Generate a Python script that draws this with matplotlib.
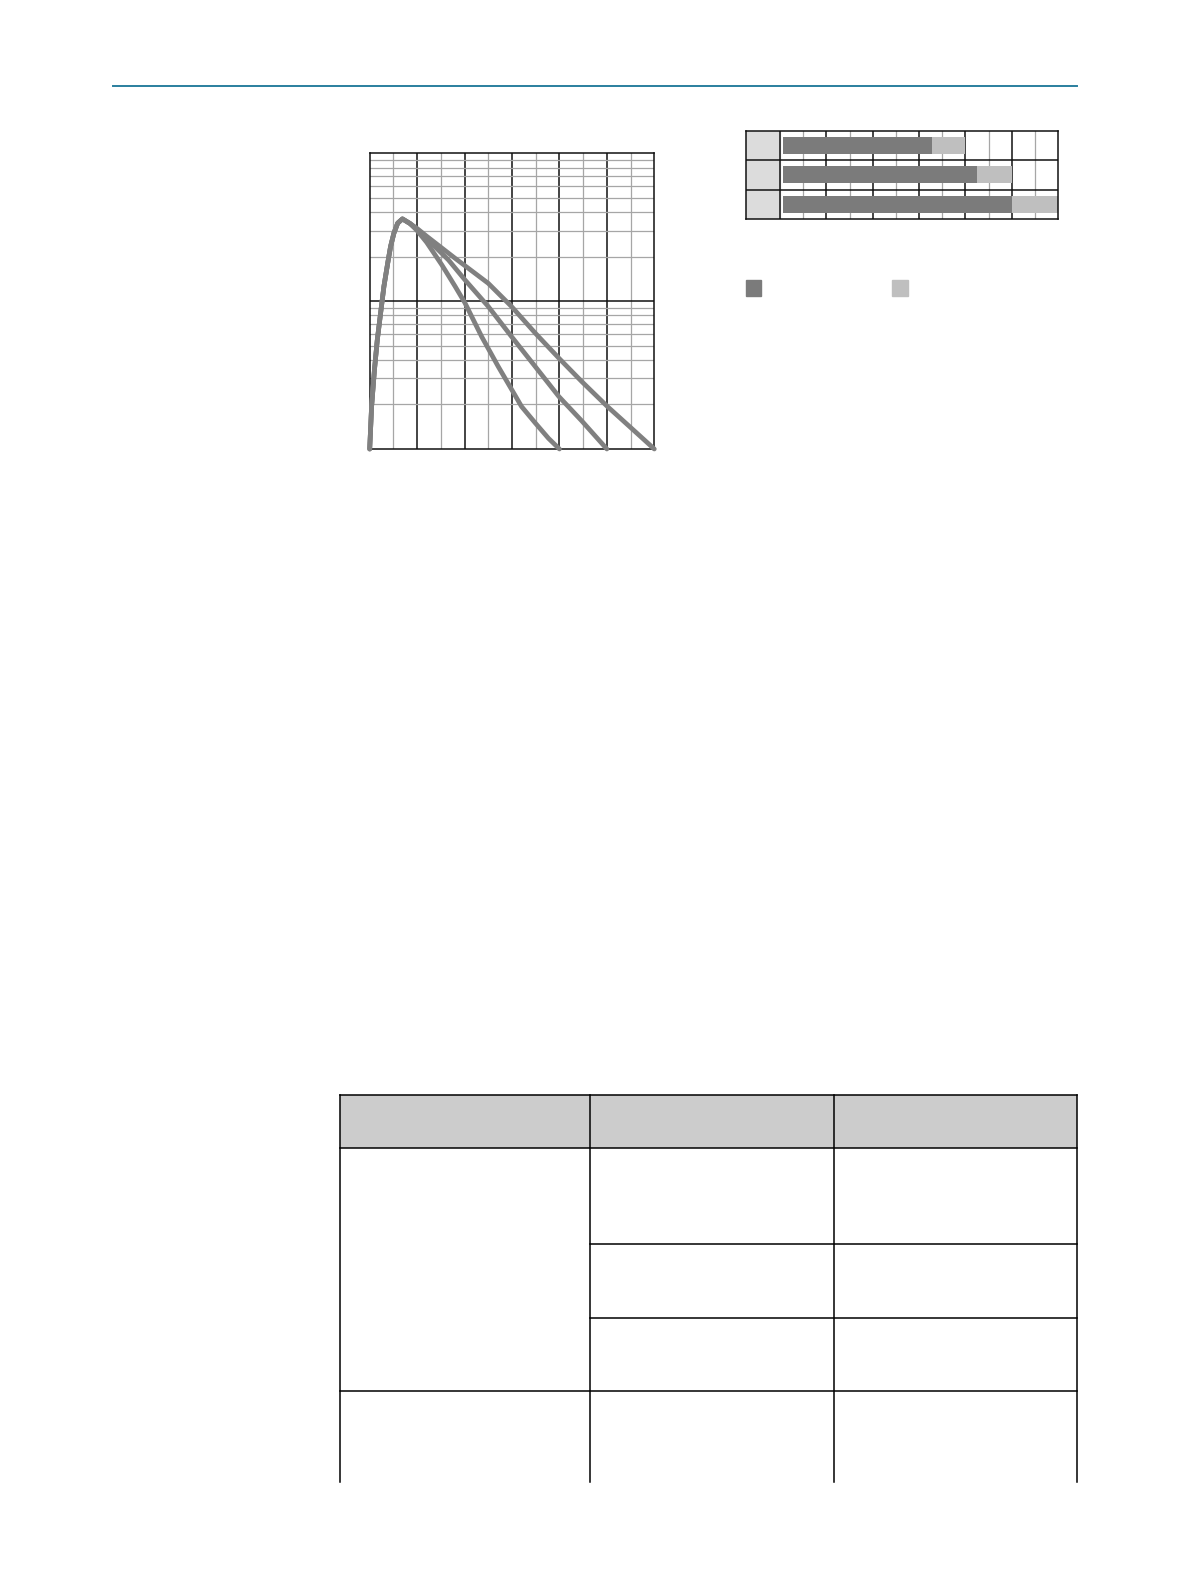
import matplotlib
matplotlib.use("Agg")
import matplotlib.pyplot as plt
from matplotlib.patches import Rectangle
import numpy as np

W, H = 1191, 1584

# curve data (x linear 0..6, y log 0.1..10)
rise_x = [0.0, 0.04, 0.10, 0.16, 0.23, 0.30, 0.38, 0.44, 0.51, 0.59, 0.69, 0.85]
rise_y = [0.1, 0.194, 0.343, 0.547, 0.83, 1.26, 1.81, 2.34, 2.88, 3.37, 3.60, 3.35]

inner_x = [1.0, 1.2, 1.52, 1.80, 2.01, 2.36, 2.71, 3.06, 3.20, 3.49, 3.77, 4.0]
inner_y = [3.0, 2.5, 1.76, 1.26, 0.97, 0.576, 0.361, 0.232, 0.194, 0.150, 0.118, 0.1]

middle_x = [1.0, 1.2, 1.66, 2.01, 2.50, 2.99, 3.49, 3.99, 4.47, 5.0]
middle_y = [3.05, 2.65, 1.90, 1.39, 0.92, 0.576, 0.361, 0.226, 0.155, 0.1]

outer_x = [1.0, 1.2, 1.80, 2.50, 2.99, 3.49, 3.99, 4.47, 5.01, 5.52, 6.0]
outer_y = [3.1, 2.75, 1.95, 1.32, 0.92, 0.608, 0.411, 0.286, 0.194, 0.138, 0.1]

# bar chart data
bar_rows = [0, 1, 2]
dark_end = [6.55, 8.5, 10.0]
total_end = [8.0, 10.0, 12.0]
bar_start = 0.13

DARK = "#7b7b7b"
LIGHT = "#bfbfbf"
CURVE = "#808080"
GRIDGRAY = "#a6a6a6"


def px_axes(fig, left, top, right, bottom):
    return fig.add_axes([left / W, 1 - bottom / H, (right - left) / W, (bottom - top) / H])


fig = plt.figure(figsize=(W / 100, H / 100), dpi=100)

# ---- log grid chart ----
ax = px_axes(fig, 369.7, 153.3, 654.3, 449.0)
ax.set_xlim(0, 6)
ax.set_yscale("log")
ax.set_ylim(0.1, 10)
for v in np.arange(0.5, 6, 0.5):
    major = float(v).is_integer()
    ax.axvline(v, color="#111111" if major else GRIDGRAY, lw=1.1 if major else 0.9, zorder=1)
for dec in [0.1, 1]:
    for k in range(2, 10):
        ax.axhline(dec * k, color=GRIDGRAY, lw=0.9, zorder=1)
ax.axhline(1, color="#111111", lw=1.1, zorder=1)
for s in ax.spines.values():
    s.set_color("#111111")
    s.set_linewidth(1.1)
ax.set_xticks([])
ax.set_yticks([])
ax.minorticks_off()

for cx, cy in [(inner_x, inner_y), (middle_x, middle_y), (outer_x, outer_y)]:
    ax.plot(rise_x + cx, rise_y + cy, color=CURVE, lw=3.4, solid_joinstyle="round",
            solid_capstyle="round", zorder=3, clip_on=False)

# ---- bar chart ----
bx = px_axes(fig, 746, 130.7, 1058, 219)
label_w = 34 / (278 / 12)
bx.set_xlim(-label_w, 12)
bx.set_ylim(3, 0)
bx.axvspan(-label_w, 0, color="#dcdcdc", zorder=0)
for v in range(1, 12):
    bx.axvline(v, color="#111111" if v % 2 == 0 else GRIDGRAY, lw=1.1 if v % 2 == 0 else 0.9, zorder=1)
bx.axvline(0, color="#111111", lw=1.1, zorder=1)
for r in [1, 2]:
    bx.axhline(r, color="#111111", lw=1.1, zorder=1)
yc = [r + 0.5 for r in bar_rows]
bx.barh(yc, np.array(total_end) - bar_start, left=bar_start, height=0.58, color=LIGHT, zorder=2)
bx.barh(yc, np.array(dark_end) - bar_start, left=bar_start, height=0.58, color=DARK, zorder=3)
for s in bx.spines.values():
    s.set_color("#111111")
    s.set_linewidth(1.1)
bx.set_xticks([])
bx.set_yticks([])

# ---- page overlay: rule, legend squares, table ----
pg = fig.add_axes([0, 0, 1, 1], zorder=-1)
pg.set_xlim(0, W)
pg.set_ylim(H, 0)
pg.axis("off")

pg.plot([113, 1077], [86, 86], color="#2a7f9e", lw=1.4)

pg.add_patch(Rectangle((746, 280), 14.7, 15.7, color=DARK))
pg.add_patch(Rectangle((892.3, 280), 15.4, 15.7, color=LIGHT))

t_left, t_right = 340.3, 1077.3
t_top, t_head = 1095.3, 1148.3
col1, col2 = 590.3, 834.3
t_end = 1481.7
lw = 1.1
pg.add_patch(Rectangle((t_left, t_top), t_right - t_left, t_head - t_top, color="#cccccc", lw=0))
pg.plot([t_left, t_right], [t_top, t_top], color="black", lw=lw)
pg.plot([t_left, t_right], [t_head, t_head], color="black", lw=lw)
for y in [1243.7, 1317.7]:
    pg.plot([col1, t_right], [y, y], color="black", lw=lw)
pg.plot([t_left, t_right], [1391.3, 1391.3], color="black", lw=lw)
for x in [t_left, col1, col2, t_right]:
    pg.plot([x, x], [t_top, t_end], color="black", lw=lw)

fig.savefig("out.png", dpi=100)
